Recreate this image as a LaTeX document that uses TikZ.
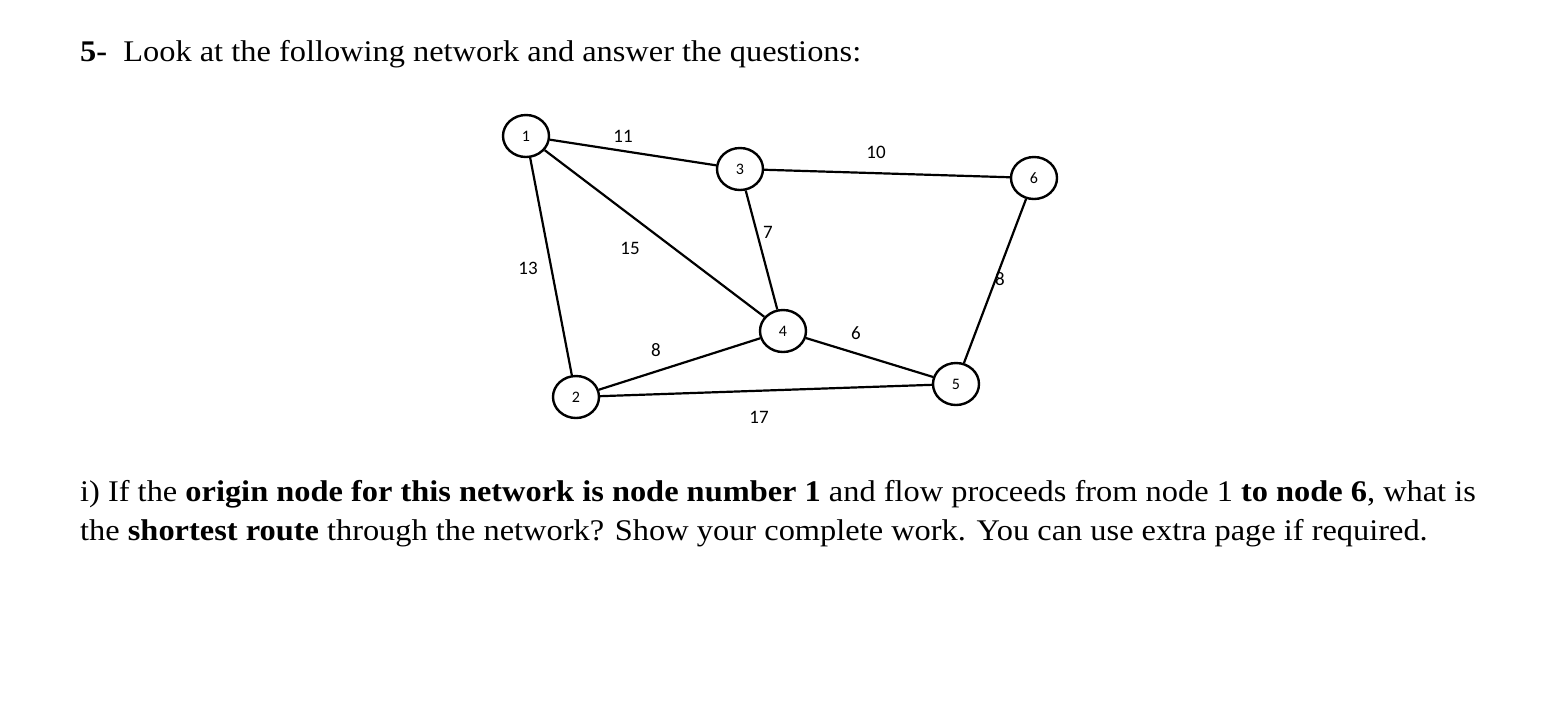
\documentclass[tikz,border=0pt]{standalone}
\usepackage{fontspec}
\setmainfont{Liberation Serif}[FakeStretch=1.08]
\newfontfamily\gfont{Carlito}
\usetikzlibrary{shapes.geometric}
\begin{document}
\begin{tikzpicture}[x=1pt,y=-1pt,
  vtx/.style={draw,line width=2.4pt,ellipse,minimum width=46pt,minimum height=42pt,inner sep=0pt,font=\gfont\fontsize{16}{16}\selectfont},
  edge/.style={line width=2.2pt},
  wt/.style={font=\gfont\fontsize{19}{19}\selectfont},
  txt/.style={anchor=base west,inner sep=0pt,font=\fontsize{30}{33}\selectfont}]
\path[use as bounding box] (0,0) rectangle (1550,718);
\node[txt] (t1) at (80,61) {\textbf{5-}\ \ Look at the following network and answer the questions:};
\node[txt] (t2) at (80,501) {i) If the \textbf{origin node for this network is node number 1} and flow proceeds from node 1 \textbf{to node 6}, what is};
\node[txt] (t3) at (80,540) {the \textbf{shortest route} through the network? Show your complete work. You can use extra page if required.};
\node[vtx] (n1) at (526,136) {1};
\node[vtx] (n2) at (576,397) {2};
\node[vtx] (n3) at (740,169) {3};
\node[vtx] (n4) at (783,331) {4};
\node[vtx] (n5) at (956,384) {5};
\node[vtx] (n6) at (1034,178) {6};
\draw[edge] (n1) -- (n3);
\draw[edge] (n1) -- (n2);
\draw[edge] (n1) -- (n4);
\draw[edge] (n3) -- (n6);
\draw[edge] (n3) -- (n4);
\draw[edge] (n2) -- (n4);
\draw[edge] (n2) -- (n5);
\draw[edge] (n4) -- (n5);
\draw[edge] (n5) -- (n6);
\node[wt] (w11) at (623,136) {11};
\node[wt] (w10) at (876,152) {10};
\node[wt] (w15) at (630,248) {15};
\node[wt] (w7) at (768,232) {7};
\node[wt] (w13) at (528,268) {13};
\node[wt] (w8a) at (1000,279) {8};
\node[wt] (w8b) at (656,350) {8};
\node[wt] (w6) at (856,333) {6};
\node[wt] (w17) at (759,417) {17};
\end{tikzpicture}
\end{document}
